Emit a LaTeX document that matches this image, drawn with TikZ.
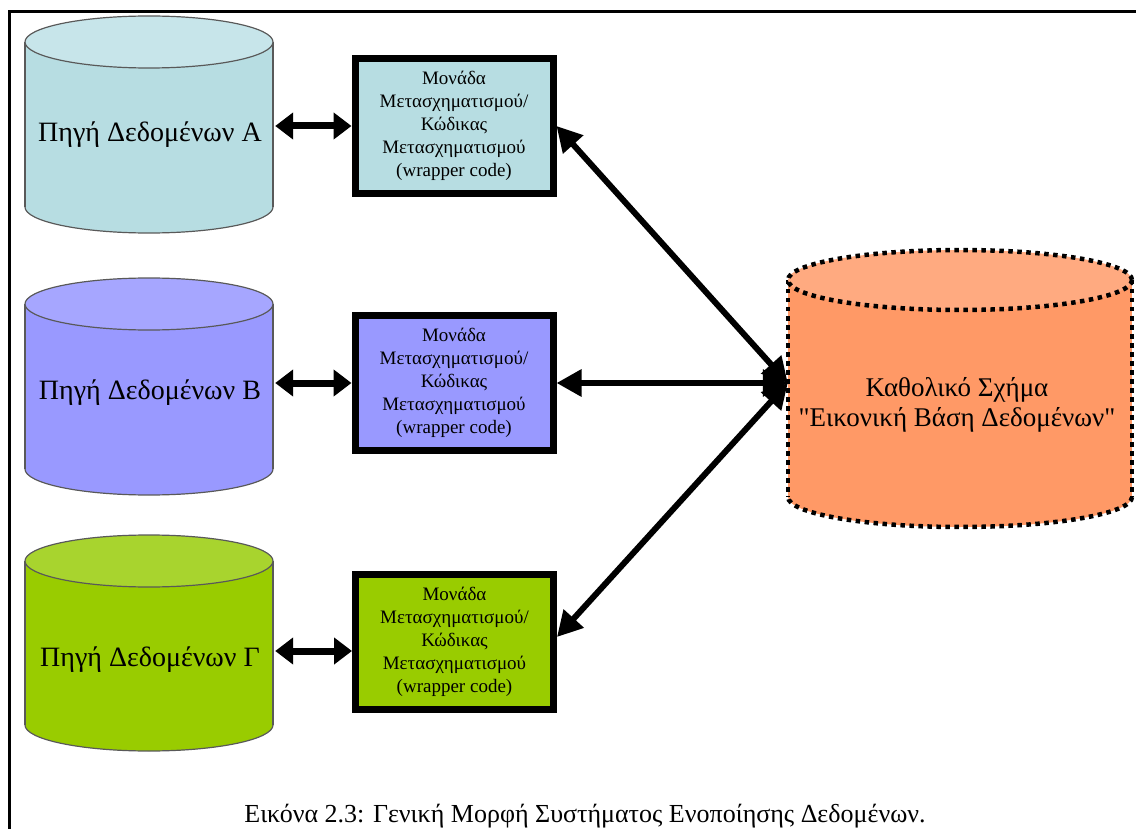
\documentclass[tikz,border=0pt]{standalone}
\usepackage{fontspec}
\setmainfont{Liberation Serif}[Ligatures=TeXOff]
\usetikzlibrary{arrows.meta}
\definecolor{cyanbody}{HTML}{B7DDE2}
\definecolor{cyantop}{HTML}{C7E5EA}
\definecolor{bluebody}{HTML}{9999FF}
\definecolor{bluetop}{HTML}{A6A6FF}
\definecolor{greenbody}{HTML}{99CC00}
\definecolor{greentop}{HTML}{A8D42E}
\definecolor{orangebody}{HTML}{FF9966}
\definecolor{orangetop}{HTML}{FFAA80}
\newcommand\dbcyl[9]{%
  \fill[#7] ({#2-#5},#3) rectangle ({#2+#5},#4);
  \fill[#7] (#2,#4) ellipse [x radius=#5, y radius=#6];
  \begin{scope}
    \clip ({#2-#5-10},#4) rectangle ({#2+#5+10},{#4+#6+10});
    \draw[#9] (#2,#4) ellipse [x radius=#5, y radius=#6];
  \end{scope}
  \draw[#9] ({#2-#5},#3) -- ({#2-#5},#4) ({#2+#5},#3) -- ({#2+#5},#4);
  \filldraw[fill=#8, #9] (#2,#3) ellipse [x radius=#5, y radius=#6];
  \node[inner sep=0pt, minimum width={2*#5}, minimum height={#4-#3}] (#1) at (#2,{(#3+#4)/2}) {};
}
\tikzset{
  cylline/.style={draw=black!65, line width=1.2pt},
  dotline/.style={draw=black, line width=4.5pt, dash pattern=on 4.5pt off 4.5pt},
  wrapbox/.style={draw=black, line width=7pt, minimum width=198pt, minimum height=135pt,
    align=center, font=\fontsize{19}{23}\selectfont, inner sep=0pt},
  biglink/.style={line width=6pt, {Triangle[length=25pt,width=26pt]}-{Triangle[length=25pt,width=26pt]}},
  shortlink/.style={line width=7pt, shorten <=2pt, {Triangle[length=18pt,width=26pt]}-{Triangle[length=18pt,width=26pt]}},
  srclabel/.style={font=\fontsize{28}{30}\selectfont, anchor=base, inner sep=0pt},
}
\begin{document}
\begin{tikzpicture}[x=1pt,y=-1pt]
\useasboundingbox (0,0) rectangle (1136,829);
% frame
\draw[line width=3pt] (1136,12) -- (9,12) -- (9,829);
% source cylinders
\dbcyl{cylA}{149}{42}{207}{124}{26}{cyanbody}{cyantop}{cylline}
\dbcyl{cylB}{149}{304}{469}{124}{26}{bluebody}{bluetop}{cylline}
\dbcyl{cylC}{149}{561}{725}{124}{26}{greenbody}{greentop}{cylline}
\node[srclabel] (labA) at (150,142) {Πηγή Δεδομένων Α};
\node[srclabel] (labB) at (150,399) {Πηγή Δεδομένων Β};
\node[srclabel] (labC) at (150,666) {Πηγή Δεδομένων Γ};
% global cylinder
\dbcyl{glob}{960}{280}{497}{172}{30}{orangebody}{orangetop}{dotline}
\node[font=\fontsize{27}{30}\selectfont, align=center, inner sep=0pt] (globlab) at (957,405)
  {Καθολικό Σχήμα\\"Εικονική Βάση Δεδομένων"};
% wrapper boxes
\node[wrapbox, fill=cyanbody] (boxA) at (454,126) {Μονάδα\\Μετασχηματισμού/\\Κώδικας\\Μετασχηματισμού\\(wrapper code)};
\node[wrapbox, fill=bluebody] (boxB) at (454,383) {Μονάδα\\Μετασχηματισμού/\\Κώδικας\\Μετασχηματισμού\\(wrapper code)};
\node[wrapbox, fill=greenbody] (boxC) at (454.5,642) {Μονάδα\\Μετασχηματισμού/\\Κώδικας\\Μετασχηματισμού\\(wrapper code)};
% connectors
\draw[shortlink] (boxA.west -| cylA.east) -- (boxA.west);
\draw[shortlink] (boxB.west -| cylB.east) -- (boxB.west);
\draw[shortlink] ([yshift=-9pt]boxC.west -| cylC.east) -- ([yshift=-9pt]boxC.west);
\draw[biglink] (glob.west |- boxB.east) -- (boxA.east);
\draw[biglink] (glob.west |- boxB.east) -- (boxB.east);
\draw[biglink] (glob.west |- boxB.east) -- ([yshift=5pt]boxC.east);
% caption
\node[font=\fontsize{26}{30}\selectfont, anchor=base, inner sep=0pt] (caption) at (585,822)
  {Εικόνα 2.3: Γενική Μορφή Συστήματος Ενοποίησης Δεδομένων.};
\end{tikzpicture}
\end{document}
